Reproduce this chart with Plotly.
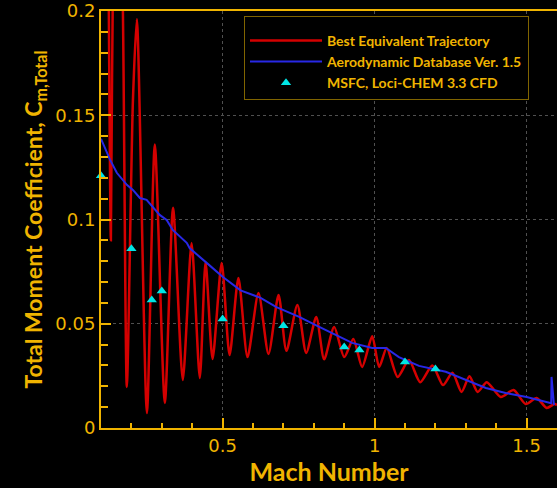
import plotly.graph_objects as go

GOLD = "#f0b400"

# Best Equivalent Trajectory (red) - read extrema
traj_mach = [0.124, 0.1325, 0.141, 0.157, 0.172, 0.185, 0.205, 0.218, 0.251, 0.277, 0.31, 0.337,
             0.369, 0.398, 0.425, 0.444, 0.467, 0.497, 0.523, 0.552, 0.582, 0.618,
             0.651, 0.684, 0.71, 0.746, 0.775, 0.808, 0.834, 0.867, 0.9, 0.93,
             0.959, 0.992, 1.015, 1.04, 1.076, 1.113, 1.15, 1.19, 1.225, 1.256,
             1.286, 1.312, 1.339, 1.369, 1.415, 1.457, 1.497, 1.533, 1.566, 1.592, 1.6]
traj_cm = [0.24, 0.09, 0.24, 0.30, 0.20, 0.0197, 0.157, 0.196, 0.0072, 0.136, 0.012, 0.1056,
           0.023, 0.0887, 0.024, 0.0796, 0.0331, 0.0791, 0.035, 0.072, 0.034, 0.0647,
           0.0355, 0.0638, 0.037, 0.059, 0.036, 0.0532, 0.033, 0.0485, 0.034, 0.0427,
           0.0293, 0.044, 0.0293, 0.0384, 0.0245, 0.0326, 0.022, 0.030, 0.0206, 0.0265,
           0.0173, 0.0248, 0.0173, 0.022, 0.0149, 0.0182, 0.0115, 0.0144, 0.0096, 0.0115, 0.011]

# Aerodynamic Database Ver. 1.5 (blue)
db_mach = [0.1, 0.13, 0.152, 0.185, 0.205, 0.228, 0.25, 0.293, 0.316, 0.336,
           0.382, 0.392, 0.457, 0.5, 0.559, 0.625, 0.677, 0.752, 0.818, 0.874,
           0.926, 0.992, 1.037, 1.08, 1.146, 1.234, 1.287, 1.366, 1.431, 1.5,
           1.581, 1.582, 1.59]
db_cm = [0.1387, 0.1286, 0.1224, 0.1166, 0.1142, 0.1103, 0.1094, 0.1022, 0.0998, 0.095,
         0.0888, 0.0862, 0.078, 0.0725, 0.066, 0.0624, 0.058, 0.0533, 0.0485, 0.0446,
         0.0408, 0.0384, 0.0384, 0.034, 0.0298, 0.027, 0.024, 0.0192, 0.0168, 0.0149,
         0.0119, 0.0245, 0.011]

# MSFC, Loci-CHEM 3.3 CFD (cyan triangles)
cfd_mach = [0.1, 0.2, 0.267, 0.3, 0.5, 0.7, 0.9, 0.95, 1.1, 1.2]
cfd_cm = [0.121, 0.086, 0.0614, 0.0657, 0.0523, 0.049, 0.0389, 0.0374, 0.0317, 0.0283]

fig = go.Figure()
fig.add_trace(go.Scatter(x=traj_mach, y=traj_cm, mode="lines",
                         name="Best Equivalent Trajectory",
                         line=dict(color="#d40000", width=2.5, shape="spline", smoothing=0.7)))
fig.add_trace(go.Scatter(x=db_mach, y=db_cm, mode="lines",
                         name="Aerodynamic Database Ver. 1.5",
                         line=dict(color="#2828e6", width=2)))
fig.add_trace(go.Scatter(x=cfd_mach, y=cfd_cm, mode="markers",
                         name="MSFC, Loci-CHEM 3.3 CFD", cliponaxis=False,
                         marker=dict(symbol="triangle-up", color="#00e5e5", size=9)))

fig.update_layout(
    width=557, height=488,
    margin=dict(l=101, r=0, t=11, b=60),
    paper_bgcolor="black", plot_bgcolor="black",
    showlegend=True,
    legend=dict(x=0.3136, y=0.988, xanchor="left", yanchor="top",
                bgcolor="black", bordercolor="#806400", borderwidth=1,
                font=dict(family="Lato", size=14, color=GOLD, weight="bold"),
                title=dict(text=" ", font=dict(size=6)),
                itemwidth=72, tracegroupgap=0),
    font=dict(family="DejaVu Sans", color=GOLD),
)
fig.update_xaxes(range=[0.1, 1.6], tick0=0, dtick=0.5,
                 showline=True, linecolor=GOLD, linewidth=2, mirror=True,
                 ticks="inside", ticklen=10, tickwidth=2, tickcolor=GOLD,
                 minor=dict(dtick=0.1, tick0=0, ticks="inside", ticklen=5, tickcolor=GOLD, showgrid=False),
                 showgrid=True, gridcolor="#505050", griddash="dot", gridwidth=1,
                 zeroline=False,
                 tickfont=dict(family="DejaVu Sans", size=18, color=GOLD),
                 title=dict(text="Mach Number", standoff=6,
                            font=dict(family="Lato", size=25, color=GOLD, weight="bold")))
fig.update_yaxes(range=[0, 0.2], tick0=0, dtick=0.05,
                 showline=True, linecolor=GOLD, linewidth=2, mirror=False,
                 ticks="inside", ticklen=10, tickwidth=2, tickcolor=GOLD,
                 minor=dict(dtick=0.01, tick0=0, ticks="inside", ticklen=7, tickcolor=GOLD, showgrid=False),
                 showgrid=True, gridcolor="#505050", griddash="dot", gridwidth=1,
                 zeroline=False,
                 tickfont=dict(family="DejaVu Sans", size=18, color=GOLD),
                 title=dict(text="Total Moment Coefficient, C<sub>m,Total</sub>", standoff=6,
                            font=dict(family="Lato", size=23, color=GOLD, weight="bold")))

fig.write_html("out.html")
